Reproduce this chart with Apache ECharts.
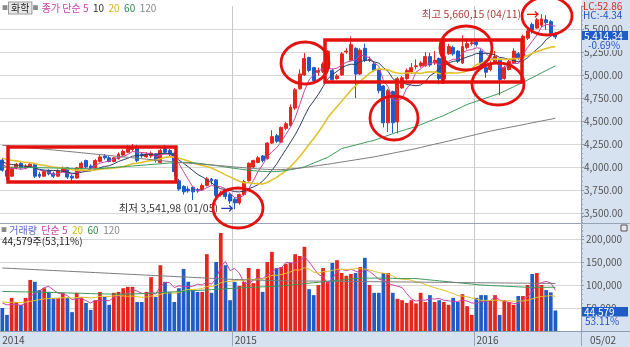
<!DOCTYPE html>
<html><head><meta charset="utf-8">
<script src="https://cdn.jsdelivr.net/npm/echarts@6/dist/echarts.min.js"></script>
<style>html,body{margin:0;padding:0;background:#fff}#c{width:630px;height:347px}</style>
</head><body><div id="c"></div>
<script>
// ---- data (weekly, first week 2014-01-20) ----
const firstWeek = [2014, 0, 20];
const trailingEmptyWeeks = 5;
const opens = [4075,3960,3900,3990,4040,3990,4000,4030,3920,3900,
3960,3930,3900,3950,3990,3900,3880,3990,4070,4010,
3990,4060,4120,4100,4060,4090,4130,4160,4190,4220,
4140,4110,4120,4140,4050,4200,4180,4150,3850,3790,
3760,3780,3755,3750,3800,3870,3860,3700,3730,3700,
3650,3610,3700,3850,4000,4050,4120,4090,4260,4340,
4270,4420,4450,4640,4850,5000,5190,5080,5030,5040,
5070,5050,4960,5000,5250,5160,5290,5010,5290,5160,
5120,5050,4880,4480,4820,4490,4860,4960,5030,5090,
5100,5100,5200,5130,5180,4960,5230,5300,5260,5130,
5300,5340,5360,5260,5080,5060,5130,5170,4960,5060,
5130,5230,5190,5400,5550,5510,5540,5600,5580,5450];
const closes = [3965,3900,3990,4030,3990,4010,4030,3900,3900,3950,
3925,3900,3960,3990,3890,3880,3990,4040,4000,3990,
4070,4110,4100,4060,4100,4140,4170,4210,4220,4070,
4120,4140,4150,4070,4180,4160,4140,3950,3760,3730,
3740,3730,3740,3800,3870,3850,3690,3720,3680,3630,
3610,3700,3840,4040,4070,4100,4070,4260,4330,4280,
4430,4470,4650,4840,5010,5180,5050,4940,5050,5120,
5260,4950,4990,5230,5260,5330,5010,5270,5160,5170,
5050,4830,4480,4830,4480,4960,4970,5050,5080,5100,
5130,5200,5110,5160,4960,5200,5310,5230,5150,5310,
5340,5350,5330,5120,5030,5130,5200,4950,5080,5150,
5260,5180,5420,5480,5490,5600,5610,5570,5452,5414.34];
const lows = [3950,3860,3890,3975,3980,3975,3990,3880,3880,3890,
3910,3880,3890,3940,3870,3830,3870,3980,3990,3970,
3985,4050,4080,4050,4050,4080,4120,4150,4170,4050,
4100,4100,4100,4050,4040,4140,4120,3900,3740,3700,
3720,3640,3720,3740,3790,3810,3660,3680,3650,3600,
3541.98,3590,3690,3840,3990,4040,4050,4080,4250,4260,
4260,4400,4440,4620,4840,4990,5030,4920,4990,5020,
5060,4930,4950,4990,5230,5150,4750,5000,5140,5140,
5030,4800,4430,4380,4370,4365,4850,4940,5010,5060,
5080,5090,5090,5110,4900,4950,5220,5210,5130,5120,
5280,5320,5310,5100,4970,5040,5120,4780,4950,5050,
5120,5160,5180,5380,5450,5500,5520,5490,5430,5390];
const highs = [4100,3975,4000,4045,4060,4030,4045,4040,3945,3965,
3975,3950,3975,4005,4000,3920,4000,4060,4080,4030,
4085,4130,4140,4120,4110,4160,4190,4240,4250,4240,
4160,4160,4170,4150,4200,4240,4200,4160,3870,3800,
3790,3790,3770,3820,3890,3880,3870,3740,3740,3720,
3670,3710,3860,4050,4080,4120,4130,4270,4400,4360,
4440,4490,4680,4860,5060,5240,5200,5090,5080,5140,
5270,5070,5010,5250,5290,5420,5300,5290,5340,5200,
5140,5070,4890,4850,4830,4980,4990,5070,5130,5170,
5150,5250,5240,5260,5190,5210,5340,5320,5270,5430,
5400,5380,5390,5280,5090,5150,5260,5180,5100,5170,
5290,5250,5440,5510,5570,5620,5660.15,5650,5600,5470];
const volumes = [50000,35000,72000,63000,57000,72000,111000,107000,89000,93000,
85000,72000,72000,83000,72000,41000,83000,74000,61000,46000,
67000,85000,74000,57000,83000,85000,93000,96000,96000,63000,
63000,85000,117000,74000,143000,107000,85000,63000,93000,135000,
107000,89000,85000,85000,167000,83000,150000,213000,143000,67000,
107000,98000,107000,137000,104000,135000,85000,150000,172000,137000,
139000,146000,148000,167000,163000,183000,91000,78000,100000,137000,
107000,148000,154000,126000,120000,124000,126000,139000,159000,100000,
83000,83000,126000,126000,83000,70000,67000,61000,67000,60000,
83000,63000,78000,63000,67000,63000,57000,72000,63000,80000,
54000,35000,72000,78000,78000,67000,78000,35000,67000,63000,
57000,76000,76000,100000,124000,126000,100000,89000,83935,44579];
// closes / volumes of the weeks before the first visible week (for short averages)
const priorCloses = [4180,4160,4150,4170,4140,4120,4100,4130,4110,4090,4080,4100,4070,4060,4090,4070,4050,4040,4030];
const priorVolumes = [60000,65000,70000,58000,62000,75000,68000,55000,60000,66000,72000,59000,63000,70000,61000,57000,66000,64000,68000];
// long averages
const priceMA60 = [4000,3999,3998,3997,3996,3995,3994,3993,3992,3991,
3990,3989,3988,3987,3986,3985,3984,3983,3982,3981,
3980,3983,3987,3991,3995,3999,4003,4007,4011,4015,
4019,4023,4027,4031,4035,4040,4043,4046,4048,4050,
4050,4046,4041,4035,4029,4022,4015,4008,4000,3992,
3985,3978,3971,3965,3960,3955,3952,3950,3949,3950,
3955,3962,3970,3980,3990,4002,4022,4043,4064,4085,
4105,4137,4168,4200,4213,4226,4239,4252,4265,4278,
4290,4308,4326,4344,4362,4380,4395,4410,4425,4440,
4460,4480,4500,4520,4540,4560,4584,4608,4632,4656,
4680,4697,4714,4731,4749,4766,4783,4800,4824,4848,
4872,4896,4920,4946,4971,4997,5023,5049,5074,5100];
const priceMA120 = [4235,4231,4226,4222,4217,4213,4208,4204,4199,4195,
4190,4185,4180,4175,4170,4165,4160,4155,4150,4145,
4140,4135,4130,4125,4120,4115,4110,4105,4100,4095,
4090,4085,4080,4075,4070,4065,4060,4055,4050,4046,
4042,4038,4034,4030,4026,4022,4018,4014,4010,4005,
4000,3996,3992,3988,3984,3980,3977,3974,3972,3970,
3972,3975,3979,3983,3988,3995,4002,4009,4016,4023,
4030,4038,4046,4054,4062,4070,4078,4086,4094,4102,
4110,4120,4130,4140,4150,4160,4170,4180,4190,4200,
4212,4224,4236,4248,4259,4270,4282,4294,4306,4318,
4330,4342,4354,4366,4378,4390,4400,4410,4420,4430,
4440,4450,4460,4470,4480,4490,4500,4510,4520,4530];
const volMA60 = [86000,85800,85600,85400,85200,85000,84800,84600,84400,84200,
84000,83700,83400,83100,82800,82500,82200,81900,81600,81300,
81000,80800,80600,80400,80200,80000,80000,80200,80500,80800,
81200,81700,82200,82800,83400,84000,84600,85200,85800,86400,
87000,87600,88200,88800,89400,90000,90600,91200,91800,92400,
93000,93500,94000,94500,95000,95500,96000,96500,97000,97500,
98000,99000,100000,101000,102000,103000,104000,105000,106000,107000,
108000,109000,110000,111000,112000,113000,114000,114500,115000,115000,
115000,115000,115000,115000,114500,114000,114000,114000,114000,114000,
113000,112000,111000,110000,109000,108000,107000,106000,105000,104000,
103000,102000,101000,100000,99500,99000,98500,98000,97500,97000,
96500,96000,95500,95000,95000,95000,95000,95000,95000,95000];
const volMA120 = [137000,136500,136000,135500,135000,134500,134000,133500,133000,132500,
132000,131500,131000,130500,130000,129500,129000,128500,128000,127500,
127000,126500,126000,125500,125000,124500,124000,123500,123000,122500,
122000,121500,121000,120500,120000,119500,119000,118500,118000,117500,
117000,116500,116000,115500,115000,114500,114000,113500,113000,112500,
112000,111700,111400,111100,110800,110500,110200,110000,109800,109600,
109400,109200,109000,108900,108800,108700,108600,108500,108400,108300,
108200,108100,108000,107900,107800,107700,107600,107500,107400,107300,
107200,107100,107000,106900,106800,106700,106600,106500,106400,106300,
106200,106100,106000,105900,105800,105700,105600,105500,105400,105300,
105200,105100,105000,104900,104800,104700,104600,104500,104400,104300,
104200,104100,104000,103900,103800,103700,103600,103500,103400,103300];
const priceAxis = {min: 3250, max: 5750, step: 250};
const volAxis = {min: 0, max: 250000, step: 50000};
const indicatorText = {lc: 'LC:52.86', hc: 'HC:-4.34'};
const lastDateLabel = '05/02';

// ---- helpers ----
const pad = n => String(n).padStart(2, '0');
const cats = [];
{
  const d = new Date(Date.UTC(firstWeek[0], firstWeek[1], firstWeek[2]));
  for (let i = 0; i < closes.length; i++) {
    cats.push(d.getUTCFullYear() + '-' + pad(d.getUTCMonth() + 1) + '-' + pad(d.getUTCDate()));
    d.setUTCDate(d.getUTCDate() + 7);
  }
  for (let i = 0; i < trailingEmptyWeeks; i++) cats.push(' '.repeat(i + 1));
}
const isYearStart = (idx) => cats[idx].trim() !== '' && (idx === 0 || cats[idx].slice(0, 4) !== cats[idx - 1].slice(0, 4));
function ma(n, series, prior) {
  const all = prior.concat(series);
  return series.map((_, i) => {
    const j = i + prior.length;
    if (j - n + 1 < 0) return null;
    let s = 0;
    for (let k = j - n + 1; k <= j; k++) s += all[k];
    return +(s / n).toFixed(2);
  });
}
const fmt2 = v => v.toLocaleString('en-US', {minimumFractionDigits: 2, maximumFractionDigits: 2});
const fmt0 = v => v.toLocaleString('en-US');
const fmtKr = v => { const p = v.toFixed(2).split('.'); return p[0].replace(/\B(?=(\d{3})+(?!\d))/g, ',') + ',' + p[1]; };
const md = s => s.slice(5, 7) + '/' + s.slice(8, 10);

const RED = '#e4261c', BLUE = '#1f5cc6';
const FONT = '"Noto Sans CJK KR","Noto Sans",sans-serif';
const C_MA5 = '#c843a6', C_MA10 = '#2f3b66', C_MA20 = '#e2c12a', C_MA60 = '#3d9a5a', C_MA120 = '#7c7c7c';

const candle = opens.map((o, i) => [o, closes[i], lows[i], highs[i]]);
let hiIdx = 0, loIdx = 0;
highs.forEach((h, i) => { if (h > highs[hiIdx]) hiIdx = i; });
lows.forEach((l, i) => { if (l < lows[loIdx]) loIdx = i; });
const n = closes.length;
const lastChg = ((closes[n - 1] / closes[n - 2] - 1) * 100).toFixed(2) + '%';
const volRatio = (volumes[n - 1] / volumes[n - 2] * 100).toFixed(2);

const chart = echarts.init(document.getElementById('c'), null, {renderer: 'canvas'});

const xBase = {type: 'category', data: cats, boundaryGap: true,
  axisLine: {show: false}, axisTick: {show: false},
  splitLine: {show: true, interval: (i) => i > 0 && isYearStart(i), lineStyle: {color: '#c9c9c9', width: 1}}};

const line = (name, data, color, w, xi, yi) => ({type: 'line', name, data, xAxisIndex: xi, yAxisIndex: yi,
  showSymbol: false, symbol: 'none', smooth: false, lineStyle: {color, width: w}, itemStyle: {color}, z: 3, silent: true});

const option = {
  backgroundColor: '#ffffff',
  animation: false,
  textStyle: {fontFamily: FONT},
  grid: [
    {left: 0, right: 49, top: 6, bottom: 111, outerBoundsMode: 'none', containLabel: false},
    {left: 0, right: 49, top: 216, bottom: 16, outerBoundsMode: 'none', containLabel: false}
  ],
  xAxis: [
    Object.assign({}, xBase, {gridIndex: 0, axisLabel: {show: false}}),
    Object.assign({}, xBase, {gridIndex: 1,
      axisLine: {show: true, lineStyle: {color: '#8d9bb0'}},
      axisTick: {show: true, interval: (i) => i > 0 && isYearStart(i), length: 15, lineStyle: {color: '#9aa6b8'}},
      axisLabel: {show: true, interval: (i) => isYearStart(i), formatter: v => v.slice(0, 4),
        align: 'left', color: '#4a4a4a', fontSize: 10, margin: 4, fontFamily: FONT}})
  ],
  yAxis: [
    {type: 'value', gridIndex: 0, position: 'right', min: priceAxis.min, max: priceAxis.max, interval: priceAxis.step,
      axisLine: {show: true, lineStyle: {color: '#8d9bb0'}},
      axisTick: {show: true, length: 3, lineStyle: {color: '#8d9bb0'}},
      minorTick: {show: true, splitNumber: 5, length: 2, lineStyle: {color: '#9aa6b8'}},
      splitLine: {show: true, showMinLine: false, showMaxLine: false, lineStyle: {color: '#d6d6d6'}},
      axisLabel: {formatter: fmt2, showMinLabel: false, showMaxLabel: false, color: '#555', fontSize: 10, margin: 3, fontFamily: FONT}},
    {type: 'value', gridIndex: 1, position: 'right', min: volAxis.min, max: volAxis.max, interval: volAxis.step,
      axisLine: {show: true, lineStyle: {color: '#8d9bb0'}},
      axisTick: {show: true, length: 3, lineStyle: {color: '#8d9bb0'}},
      minorTick: {show: true, splitNumber: 5, length: 2, lineStyle: {color: '#9aa6b8'}},
      splitLine: {show: true, showMinLine: false, showMaxLine: false, lineStyle: {color: '#d6d6d6'}},
      axisLabel: {formatter: fmt0, showMinLabel: false, showMaxLabel: false, color: '#555', fontSize: 10, margin: 5, fontFamily: FONT}}
  ],
  series: [
    {type: 'candlestick', name: '화학', data: candle, xAxisIndex: 0, yAxisIndex: 0, barWidth: '74%',
      itemStyle: {color: RED, color0: BLUE, borderColor: RED, borderColor0: BLUE, borderWidth: 1},
      markPoint: {symbol: 'circle', symbolSize: 0, silent: true,
        data: [
          {coord: [cats[hiIdx], highs[hiIdx]], label: {show: true, position: 'left', distance: 2,
            formatter: '{t|최고 ' + fmtKr(highs[hiIdx]) + ' (' + md(cats[hiIdx]) + ')}  {a|→}',
            rich: {t: {color: '#a8403c', fontSize: 10.5, fontFamily: FONT}, a: {color: '#e0201a', fontSize: 13, fontWeight: 'bold'}}}},
          {coord: [cats[loIdx], lows[loIdx]], label: {show: true, position: 'left', distance: 1, offset: [0, -1],
            formatter: '{t|최저 ' + fmtKr(lows[loIdx]) + ' (' + md(cats[loIdx]) + ')} {a|→}',
            rich: {t: {color: '#333', fontSize: 10.5, fontFamily: FONT}, a: {color: '#1c3fae', fontSize: 13, fontWeight: 'bold'}}}}
        ]}},
    line('MA5', ma(5, closes, priorCloses), C_MA5, 1, 0, 0),
    line('MA10', ma(10, closes, priorCloses), C_MA10, 1, 0, 0),
    line('MA20', ma(20, closes, priorCloses), C_MA20, 1.6, 0, 0),
    line('MA60', priceMA60, C_MA60, 1, 0, 0),
    line('MA120', priceMA120, C_MA120, 1, 0, 0),
    {type: 'bar', name: '거래량', xAxisIndex: 1, yAxisIndex: 1, barWidth: '80%',
      data: volumes.map((v, i) => ({value: v, itemStyle: {color: closes[i] >= opens[i] ? RED : BLUE}}))},
    line('VMA5', ma(5, volumes, priorVolumes), C_MA5, 1, 1, 1),
    line('VMA20', ma(20, volumes, priorVolumes), C_MA20, 1, 1, 1),
    line('VMA60', volMA60, C_MA60, 1, 1, 1),
    line('VMA120', volMA120, C_MA120, 1, 1, 1)
  ]
};
chart.setOption(option);

// ---- frame, legends, side labels, hand-drawn marks ----
const AX = 581.5, BG = '#d7e2f0';
const txt = (x, y, text, fill, size, extra) => Object.assign({type: 'text', x, y, z: 20,
  style: Object.assign({text, fill, font: (size || 10) + 'px ' + FONT, verticalAlign: 'middle', align: 'left'}, (extra || {}))});
const els = [
  {type: 'rect', z: -5, shape: {x: AX, y: 0, width: 630 - AX, height: 332}, style: {fill: BG}},
  {type: 'rect', z: -5, shape: {x: 0, y: 332, width: 630, height: 15}, style: {fill: BG}},
  {type: 'line', z: 5, shape: {x1: 0, y1: 223.5, x2: 630, y2: 223.5}, style: {stroke: '#98a3b4', lineWidth: 1}},
  {type: 'line', z: 5, shape: {x1: 0, y1: 331.5, x2: 630, y2: 331.5}, style: {stroke: '#8d9bb0', lineWidth: 1}},
  {type: 'rect', z: 6, shape: {x: 621, y: 225, width: 6, height: 6}, style: {fill: '#e8e8e8', stroke: '#555', lineWidth: 1}},
  // top legend
  {type: 'text', x: 1, y: 8, z: 20, style: {text: '{q|■}{b|화학}{q|■} {m|종가 단순 5}  {k|10}  {y|20}  {g|60}  {r|120}',
    font: '10px ' + FONT, verticalAlign: 'middle',
    rich: {q: {fill: '#8a8a8a', fontSize: 6, fontFamily: FONT, padding: [0, 1, 0, 1]},
      b: {fill: '#222', fontSize: 10, fontFamily: FONT, backgroundColor: '#e9e9e9', borderColor: '#9a9a9a', borderWidth: 1, padding: [1, 2, 0, 2]},
      m: {fill: C_MA5, fontSize: 10, fontFamily: FONT}, k: {fill: '#333', fontSize: 10, fontFamily: FONT},
      y: {fill: '#d2b31a', fontSize: 10, fontFamily: FONT}, g: {fill: '#2f8a4c', fontSize: 10, fontFamily: FONT},
      r: {fill: '#888', fontSize: 10, fontFamily: FONT}}}},
  // volume legend
  {type: 'text', x: 1, y: 230, z: 20, style: {text: '{q|■} {v|거래량}  {m|단순 5}  {y|20}  {g|60}  {r|120}',
    font: '10px ' + FONT, verticalAlign: 'middle',
    rich: {q: {fill: '#8a8a8a', fontSize: 6, fontFamily: FONT}, v: {fill: '#5b63cf', fontSize: 10, fontFamily: FONT},
      m: {fill: C_MA5, fontSize: 10, fontFamily: FONT}, y: {fill: '#d2b31a', fontSize: 10, fontFamily: FONT},
      g: {fill: '#2f8a4c', fontSize: 10, fontFamily: FONT}, r: {fill: '#888', fontSize: 10, fontFamily: FONT}}}},
  txt(2, 241, fmt0(volumes[n - 1]) + '주(' + volRatio.replace('.', ',') + '%)', '#222', 10),
  // right side indicator labels
  txt(583, 6, indicatorText.lc, '#d42a22', 10),
  txt(583, 15.5, indicatorText.hc, '#2452c4', 10),
  {type: 'rect', z: 19, shape: {x: 582, y: 31, width: 46, height: 10}, style: {fill: BLUE}},
  txt(584, 36, fmt2(closes[n - 1]), '#ffffff', 10),
  txt(582, 45, lastChg, '#2452c4', 10, {backgroundColor: BG, padding: [0, 20, 0, 6]}),
  {type: 'rect', z: 19, shape: {x: 582, y: 307, width: 46, height: 11}, style: {fill: BLUE}},
  txt(584, 312.5, fmt0(volumes[n - 1]), '#ffffff', 10),
  txt(582, 321.5, volRatio + '%', '#2452c4', 10, {backgroundColor: BG, padding: [0, 14, 0, 3]}),
  txt(590, 340, lastDateLabel, '#4a4a4a', 10)
];
// hand-drawn red highlight marks on the reference
const redStyle = w => ({fill: 'none', stroke: '#e3120f', lineWidth: w});
const rects = [[8, 147, 168, 35], [325, 40, 118, 42], [443, 40, 79, 42]];
const ellipses = [[238, 208, 25, 20], [305, 63, 24, 21], [394, 118, 24, 22], [466, 48, 26, 22], [498, 84, 26, 21], [547, 16, 25, 19]];
rects.forEach(r => els.push({type: 'rect', z: 100, shape: {x: r[0], y: r[1], width: r[2], height: r[3]}, style: redStyle(3.5)}));
ellipses.forEach(e => els.push({type: 'ellipse', z: 100, shape: {cx: e[0], cy: e[1], rx: e[2], ry: e[3]}, style: redStyle(2.8)}));
chart.setOption({graphic: {elements: els}});
</script></body></html>
